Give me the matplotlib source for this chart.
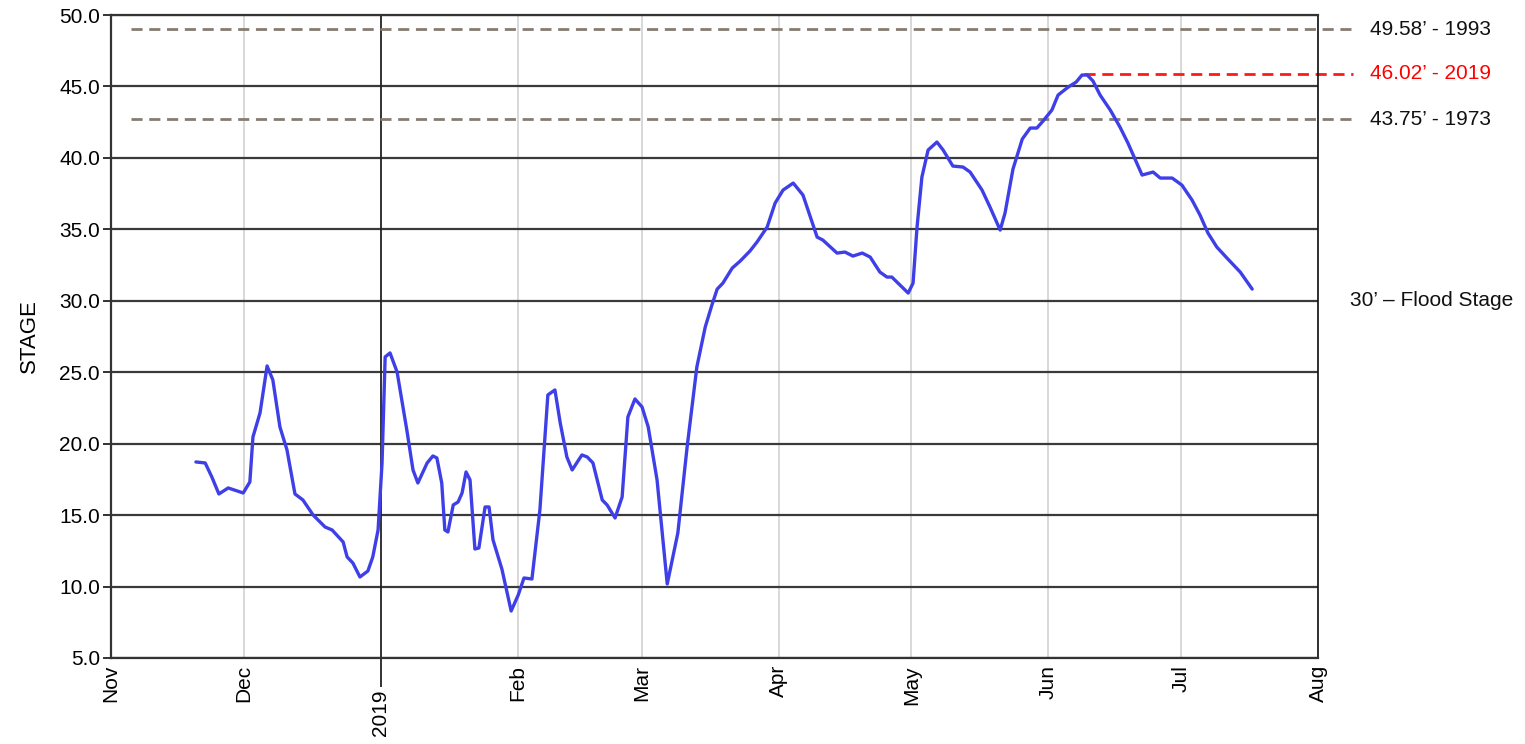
import datetime as dt
import matplotlib
matplotlib.use("Agg")
import matplotlib.pyplot as plt
import matplotlib.dates as mdates
import numpy as np

plt.rcParams['font.family'] = ['Liberation Sans', 'DejaVu Sans']

# river stage (days after 2018-11-01, feet)
start = dt.datetime(2018, 11, 1)
day_offset = [19.2, 21.3, 22.8, 24.4, 26.5, 29.9, 31.4, 32.1, 33.7, 35.3,
              36.6, 38.2, 39.8, 41.6, 43.4, 45.7, 48.4, 50.0, 52.5, 53.4,
              54.7, 56.3, 58.1, 59.2, 60.4, 61.3, 62.0, 63.1, 64.7, 66.9,
              68.3, 69.4, 71.5, 72.8, 73.7, 74.8, 75.5, 76.2, 77.4, 78.5,
              79.4, 80.3, 81.2, 82.3, 83.2, 84.6, 85.5, 86.4, 88.4, 90.5,
              92.1, 93.4, 95.2, 97.0, 98.8, 100.4, 101.6, 103.1, 104.3, 106.5,
              107.7, 109.0, 111.1, 112.2, 114.0, 115.6, 116.9, 118.5, 120.1, 121.5,
              123.5, 125.8, 128.2, 130.3, 132.5, 134.4, 135.9, 137.1, 138.4, 140.5,
              142.3, 144.5, 146.1, 148.4, 150.2, 152.0, 154.3, 156.5, 159.7, 161.0,
              164.2, 166.0, 167.8, 169.9, 171.7, 173.9, 175.5, 176.6, 180.3, 181.4,
              182.3, 183.4, 184.8, 186.8, 188.2, 190.4, 192.7, 194.3, 197.0, 198.8,
              201.1, 202.2, 204.0, 206.1, 207.9, 209.4, 210.8, 212.8, 214.2, 216.5,
              218.3, 219.6, 220.8, 222.1, 223.7, 226.0, 228.2, 230.0, 232.0, 233.2,
              235.7, 237.3, 240.0, 242.2, 244.5, 246.3, 248.1, 250.1, 252.4, 255.4,
              258.1]
stage = [18.72, 18.65, 17.67, 16.48, 16.90, 16.55, 17.32, 20.47, 22.15, 25.44,
         24.46, 21.17, 19.56, 16.48, 16.06, 15.01, 14.17, 13.96, 13.12, 12.07,
         11.65, 10.67, 11.09, 12.07, 13.96, 18.65, 26.07, 26.35, 25.02, 20.96,
         18.16, 17.25, 18.65, 19.14, 19.00, 17.25, 13.96, 13.82, 15.71, 15.92,
         16.55, 18.02, 17.46, 12.63, 12.70, 15.57, 15.57, 13.26, 11.23, 8.29,
         9.41, 10.60, 10.53, 15.36, 23.41, 23.76, 21.45, 19.07, 18.16, 19.21,
         19.07, 18.65, 16.06, 15.71, 14.80, 16.27, 21.87, 23.13, 22.57, 21.17,
         17.46, 10.18, 13.75, 19.77, 25.37, 28.17, 29.70, 30.82, 31.24, 32.29,
         32.78, 33.48, 34.11, 35.16, 36.84, 37.75, 38.24, 37.40, 34.46, 34.25,
         33.34, 33.41, 33.13, 33.34, 33.06, 32.01, 31.66, 31.66, 30.54, 31.24,
         35.16, 38.66, 40.55, 41.11, 40.55, 39.43, 39.36, 39.01, 37.75, 36.56,
         34.95, 36.14, 39.22, 41.32, 42.09, 42.09, 42.58, 43.35, 44.40, 44.96,
         45.31, 45.80, 45.80, 45.38, 44.40, 43.35, 42.16, 41.04, 39.64, 38.80,
         39.01, 38.59, 38.59, 38.10, 37.05, 36.00, 34.74, 33.76, 32.99, 32.01,
         30.82]

# record crest marks as drawn on the chart
record_y = [49.0, 45.9, 42.7]
record_text = ["49.58\u2019 - 1993", "46.02\u2019 - 2019", "43.75\u2019 - 1973"]
record_color = ["#857b72", "#ff1a1a", "#857b72"]
text_color = ["#111111", "#ff0000", "#111111"]
record_start = [4.5, 220.0, 4.5]
flood_stage = 30.0
flood_text = "30\u2019 \u2013 Flood Stage"

dates = [start + dt.timedelta(days=d) for d in day_offset]

fig = plt.figure(figsize=(15.25, 7.44), dpi=100)
ax = fig.add_axes([0.0728, 0.1156, 0.7915, 0.8642])

x0 = mdates.date2num(dt.datetime(2018, 11, 1))
x1 = mdates.date2num(dt.datetime(2019, 8, 1))
ax.set_xlim(x0, x1)
ax.set_ylim(5, 50)

# grid
for yv in np.arange(5, 50.1, 5):
    ax.axhline(yv, color="#3a3a3a", lw=1.6, zorder=1)
months = [dt.datetime(2018, 11, 1), dt.datetime(2018, 12, 1),
          dt.datetime(2019, 2, 1), dt.datetime(2019, 3, 1), dt.datetime(2019, 4, 1),
          dt.datetime(2019, 5, 1), dt.datetime(2019, 6, 1), dt.datetime(2019, 7, 1),
          dt.datetime(2019, 8, 1)]
month_labels = ["Nov", "Dec", "Feb", "Mar", "Apr", "May", "Jun", "Jul", "Aug"]
for m in months:
    ax.axvline(m, color="#d2d2d2", lw=1.2, zorder=0)
ax.axvline(dt.datetime(2019, 1, 1), color="#222222", lw=1.3, zorder=1)

ax.plot(dates, stage, color="#3f3fe8", lw=2.4, zorder=3,
        solid_joinstyle="round", solid_capstyle="round")

x_end = x0 + 281
for yv, txt, col, tc, s in zip(record_y, record_text, record_color,
                               text_color, record_start):
    ax.plot([x0 + s, x_end], [yv, yv], color=col, lw=2.0,
            dashes=(4, 2.4), clip_on=False, zorder=2)
    ax.text(x0 + 284.8, yv, txt, color=tc, fontsize=15,
            va="center", ha="left")
ax.text(x0 + 280.2, flood_stage, flood_text, color="#111111",
        fontsize=15, va="center", ha="left")

# axes styling
for side in ["left", "bottom", "top"]:
    ax.spines[side].set_color("#333333")
    ax.spines[side].set_linewidth(1.6)
ax.spines["right"].set_color("#111111")
ax.spines["right"].set_linewidth(1.2)

ax.set_yticks(np.arange(5, 50.1, 5))
ax.set_yticklabels([f"{v:.1f}" for v in np.arange(5, 50.1, 5)])
ax.tick_params(axis="y", length=6, width=1.4, color="#333333",
               labelsize=15, pad=2)
ax.set_xticks(months)
ax.set_xticklabels(month_labels, rotation=90)
ax.tick_params(axis="x", which="major", length=0, labelsize=15, pad=5)
ax.set_xticks([dt.datetime(2019, 1, 1)], minor=True)
ax.set_xticklabels(["2019"], minor=True, rotation=90)
ax.tick_params(axis="x", which="minor", length=21, width=1.3,
               color="#222222", labelsize=15, pad=2)

ax.set_ylabel("STAGE", fontsize=16, labelpad=14)

fig.savefig("out.png", dpi=100)
